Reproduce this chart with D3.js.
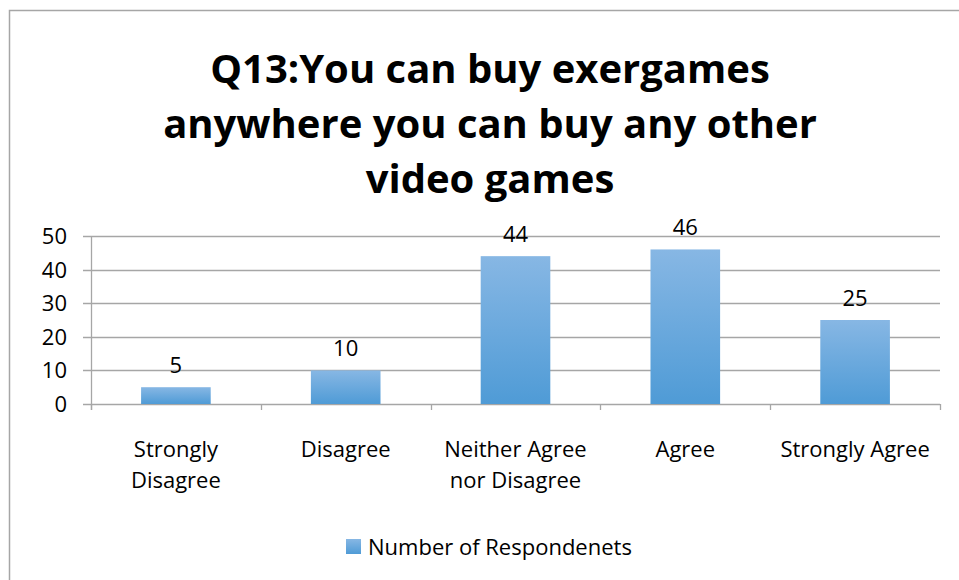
<!DOCTYPE html>
<html>
<head>
<meta charset="utf-8">
<script src="https://cdnjs.cloudflare.com/ajax/libs/d3/7.8.5/d3.min.js"></script>
<style>
  body { margin: 0; background: #fff; }
  svg { display: block; font-family: "Open Sans", sans-serif; }
</style>
</head>
<body>
<svg width="959" height="580"></svg>
<script>
const categories = [["Strongly", "Disagree"], ["Disagree"], ["Neither Agree", "nor Disagree"], ["Agree"], ["Strongly Agree"]];
const values = [5, 10, 44, 46, 25];
const yTicks = [0, 10, 20, 30, 40, 50];
const titleLines = ["Q13:You can buy exergames", "anywhere you can buy any other", "video games"];
const seriesName = "Number of Respondenets";

var svg = d3.select("svg");

// outer chart border (right/bottom fall outside the picture)
svg.append("rect")
    .attr("x", 9.5).attr("y", 10.5)
    .attr("width", 1000).attr("height", 1000)
    .attr("fill", "none").attr("stroke", "#a6a6a6").attr("stroke-width", 1.5);

var defs = svg.append("defs");
var grad = defs.append("linearGradient")
    .attr("id", "barGrad").attr("x1", 0).attr("y1", 0).attr("x2", 0).attr("y2", 1);
grad.append("stop").attr("offset", "0%").attr("stop-color", "#87b7e4");
grad.append("stop").attr("offset", "100%").attr("stop-color", "#4f9bd6");

var plotLeft = 91, plotRight = 940, plotTop = 236, plotBottom = 404;

var x = d3.scaleBand()
    .domain(d3.range(values.length))
    .range([plotLeft, plotRight])
    .paddingInner(0.59).paddingOuter(0.295);

var xb = d3.scaleBand()
    .domain(d3.range(values.length))
    .range([plotLeft, plotRight]);

var y = d3.scaleLinear().domain([0, 50]).range([plotBottom, plotTop]);

// gridlines
svg.append("g")
  .selectAll("line")
  .data(yTicks)
  .join("line")
    .attr("x1", plotLeft - 8).attr("x2", plotRight)
    .attr("y1", d => Math.round(y(d)) + 0.5).attr("y2", d => Math.round(y(d)) + 0.5)
    .attr("stroke", "#a6a6a6").attr("stroke-width", 1.3);

// y axis line
svg.append("line")
    .attr("x1", plotLeft + 0.5).attr("x2", plotLeft + 0.5)
    .attr("y1", plotTop).attr("y2", plotBottom + 6)
    .attr("stroke", "#a6a6a6").attr("stroke-width", 1.3);

// y tick labels
svg.append("g")
  .selectAll("text")
  .data(yTicks)
  .join("text")
    .attr("x", 67).attr("y", d => y(d) + 8)
    .attr("text-anchor", "end")
    .attr("font-size", 22)
    .attr("fill", "#000")
    .text(d => d);

// x category tick marks
svg.append("g")
  .selectAll("line")
  .data(d3.range(values.length + 1))
  .join("line")
    .attr("x1", i => Math.round(plotLeft + i * xb.bandwidth()) + 0.5)
    .attr("x2", i => Math.round(plotLeft + i * xb.bandwidth()) + 0.5)
    .attr("y1", plotBottom).attr("y2", plotBottom + 6)
    .attr("stroke", "#a6a6a6").attr("stroke-width", 1.3);

// bars
svg.append("g")
  .selectAll("rect")
  .data(values)
  .join("rect")
    .attr("x", (d, i) => x(i))
    .attr("y", d => y(d))
    .attr("width", x.bandwidth())
    .attr("height", d => y(0) - y(d))
    .attr("fill", "url(#barGrad)");

// value labels
svg.append("g")
  .selectAll("text")
  .data(values)
  .join("text")
    .attr("x", (d, i) => x(i) + x.bandwidth() / 2)
    .attr("y", d => y(d) - 14)
    .attr("text-anchor", "middle")
    .attr("font-size", 22)
    .text(d => d);

// category labels
svg.append("g")
  .selectAll("text")
  .data(categories)
  .join("text")
    .attr("x", (d, i) => xb(i) + xb.bandwidth() / 2)
    .attr("y", 457)
    .attr("text-anchor", "middle")
    .attr("font-size", 22)
  .selectAll("tspan")
  .data(d => d)
  .join("tspan")
    .attr("x", function () { return this.parentNode.getAttribute("x"); })
    .attr("dy", (d, j) => j === 0 ? 0 : 31)
    .text(d => d);

// title
svg.append("text")
    .attr("x", 490).attr("y", 83)
    .attr("text-anchor", "middle")
    .attr("font-size", 40).attr("font-weight", "bold")
  .selectAll("tspan")
  .data(titleLines)
  .join("tspan")
    .attr("x", 490)
    .attr("dy", (d, i) => i === 0 ? 0 : 55)
    .text(d => d);

// legend
var lg = svg.append("g").attr("transform", "translate(346,539)");
lg.append("rect").attr("width", 15).attr("height", 15).attr("fill", "url(#barGrad)");
lg.append("text").attr("x", 22).attr("y", 16).attr("font-size", 22).text(seriesName);
</script>
</body>
</html>
